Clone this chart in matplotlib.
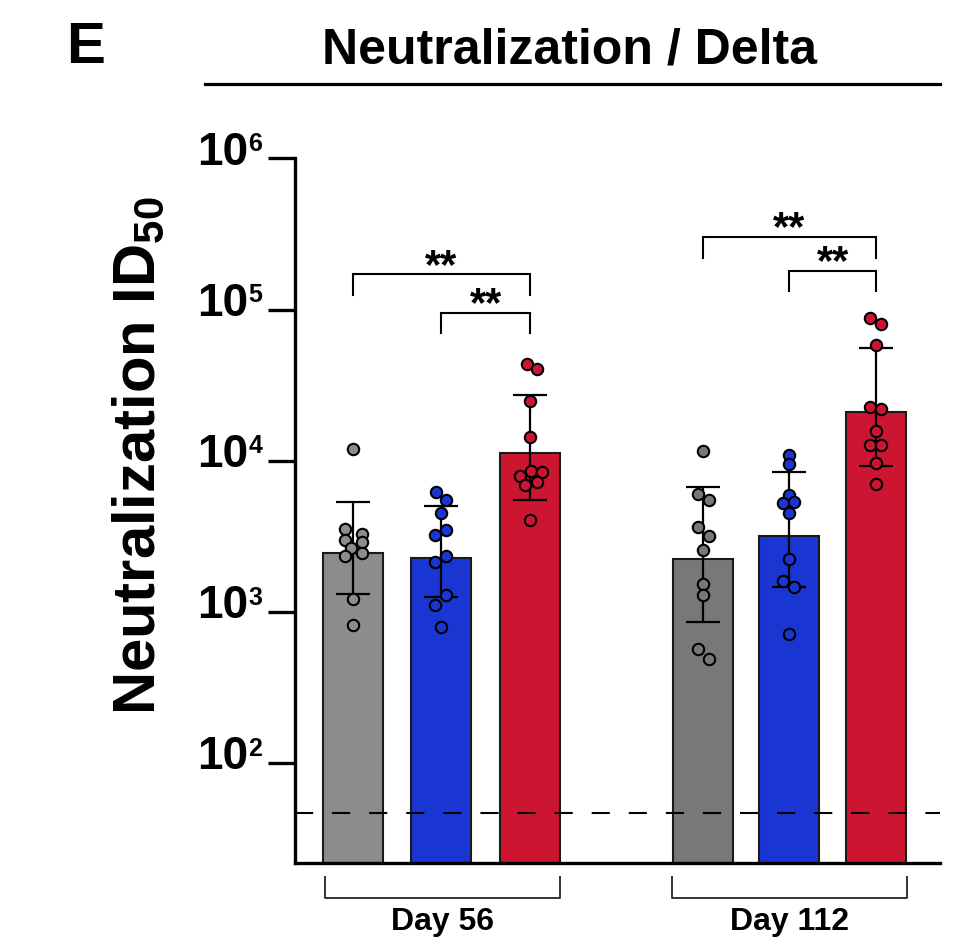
import numpy as np
import matplotlib
matplotlib.use('Agg')
import matplotlib.pyplot as plt
from matplotlib import transforms

plt.rcParams['font.family'] = ['Liberation Sans', 'DejaVu Sans']
plt.rcParams['font.weight'] = 'bold'
plt.rcParams['mathtext.fontset'] = 'custom'
plt.rcParams['mathtext.bf'] = 'Liberation Sans:bold'
plt.rcParams['mathtext.rm'] = 'Liberation Sans:bold'

# ---- data ----
days = ['Day 56', 'Day 112']
colors_56 = ['#8c8c8c', '#1a36d2', '#cc1631']
colors_112 = ['#787878', '#1a36d2', '#cc1631']

means_56 = [2445, 2290, 11170]
lo_56 = [1324, 1259, 5480]
hi_56 = [5370, 5000, 27200]

means_112 = [2235, 3200, 20940]
lo_112 = [865, 1458, 9240]
hi_112 = [6740, 8430, 55400]

gray_56 = [12040, 3560, 3270, 2980, 2900, 2650, 2330, 2450, 1220, 826]
blue_56 = [6170, 5480, 4500, 3470, 3250, 2340, 2135, 1300, 1104, 793]
red_56 = [43600, 40300, 25000, 14300, 8600, 7980, 8430, 7280, 6950, 4080]

gray_112 = [11560, 6030, 5480, 3630, 3200, 2570, 1530, 1297, 565, 492]
blue_112 = [10860, 9450, 5910, 5240, 5320, 4500, 2235, 1597, 1466, 716]
red_112 = [87900, 80800, 58600, 22800, 22000, 15670, 12730, 12730, 9640, 7000]

# horizontal scatter of the dots (pixels)
jit_gray_56 = [0, -8, 9, -8, 9, -2, -8, 9, 0, 0]
jit_blue_56 = [-5, 5, 0, 5, -6, 5, -6, 5, -6, 0]
jit_red_56 = [-3, 7, 0, 0, 1, -10, 12, 7, -5, 0]
jit_gray_112 = [0, -5, 6, -5, 6, 0, 0, 0, -5, 6]
jit_blue_112 = [0, 0, 0, -6, 5, 0, 0, -6, 5, 0]
jit_red_112 = [-6, 5, 0, -6, 5, 0, -6, 5, 0, 0]

lod = 47

x56 = [0, 1, 2]
x112 = [3.95, 4.93, 5.91]
px = 88.5  # pixels per x unit

fig = plt.figure(figsize=(9.64, 9.5), dpi=100)
ax = fig.add_axes([0.306, 0.0919, 0.6691, 0.7415])
ax.set_yscale('log')
ax.set_ylim(22, 1e6)
ax.set_xlim(-0.655, 6.633)

for xs, means, lo, hi, cols, pts, jits in [
        (x56, means_56, lo_56, hi_56, colors_56,
         [gray_56, blue_56, red_56], [jit_gray_56, jit_blue_56, jit_red_56]),
        (x112, means_112, lo_112, hi_112, colors_112,
         [gray_112, blue_112, red_112], [jit_gray_112, jit_blue_112, jit_red_112])]:
    ax.bar(xs, means, width=0.678, color=cols, edgecolor='#1a1a1a',
           linewidth=1.5, zorder=2)
    yerr = [np.array(means) - np.array(lo), np.array(hi) - np.array(means)]
    ax.errorbar(xs, means, yerr=yerr, fmt='none', ecolor='black',
                elinewidth=1.6, capsize=12, capthick=1.6, zorder=3)
    for x, c, vals, jit in zip(xs, cols, pts, jits):
        ax.plot(x + np.array(jit) / px, vals, 'o', mfc=c, mec='black',
                ms=8.2, mew=1.5, zorder=4, clip_on=False)

ax.axhline(lod, color='black', lw=1.5, dashes=(8.7, 9.1), zorder=2.5)

# significance brackets
sig = [(0, 2, 171000, 125600), (1, 2, 95500, 69700),
       (3.95, 5.91, 303000, 219000), (4.93, 5.91, 181000, 132000)]
for x0, x1, ytop, yleg in sig:
    ax.plot([x0, x0, x1, x1], [yleg, ytop, ytop, yleg], color='black',
            lw=1.5, zorder=3, solid_joinstyle='miter')
    ax.annotate('**', xy=((x0 + x1) / 2, ytop), xytext=(0, -2.5),
                textcoords='offset points', ha='center', va='baseline',
                fontsize=30, fontweight='bold')

# axes styling
for s in ['top', 'right']:
    ax.spines[s].set_visible(False)
for s in ['left', 'bottom']:
    ax.spines[s].set_linewidth(2.4)
ax.set_xticks([])
ax.set_yticks([1e2, 1e3, 1e4, 1e5, 1e6])
ax.yaxis.set_minor_locator(matplotlib.ticker.NullLocator())
ax.tick_params(axis='y', length=19.5, width=2.4, labelleft=False)

for k in range(2, 7):
    ax.annotate('10', xy=(0, 10 ** k), xycoords=('axes fraction', 'data'),
                xytext=(-34, -4.5), textcoords='offset points',
                ha='right', va='baseline', fontsize=33, fontweight='bold')
    ax.annotate(str(k), xy=(0, 10 ** k), xycoords=('axes fraction', 'data'),
                xytext=(-33.5, 19), textcoords='offset points',
                ha='left', va='top', fontsize=18, fontweight='bold')

# group brackets below the x axis
trans = transforms.blended_transform_factory(ax.transData, ax.transAxes)
for day, (x0, x1) in zip(days, [(-0.316, 2.339), (3.605, 6.26)]):
    ax.plot([x0, x0, x1, x1], [-0.0203, -0.0501, -0.0501, -0.0203],
            color='#333333', lw=1.4, transform=trans, clip_on=False)
    ax.text((x0 + x1) / 2, -0.0838, day, transform=trans, ha='center',
            va='center', fontsize=23, fontweight='bold')

fig.text(0.1608, 0.52, r'Neutralization ID$_{\mathbf{50}}$', rotation=90,
         rotation_mode='anchor', ha='center', va='baseline', fontsize=43,
         fontweight='bold')

fig.text(0.591, 0.947, 'Neutralization / Delta', ha='center', va='center',
         fontsize=36, fontweight='bold')
fig.add_artist(matplotlib.lines.Line2D([0.2127, 0.9751], [0.9116, 0.9116],
                                       color='black', lw=2.3))
fig.text(0.089, 0.949, 'E', ha='center', va='center', fontsize=42,
         fontweight='bold')

fig.savefig('out.png', dpi=100)
